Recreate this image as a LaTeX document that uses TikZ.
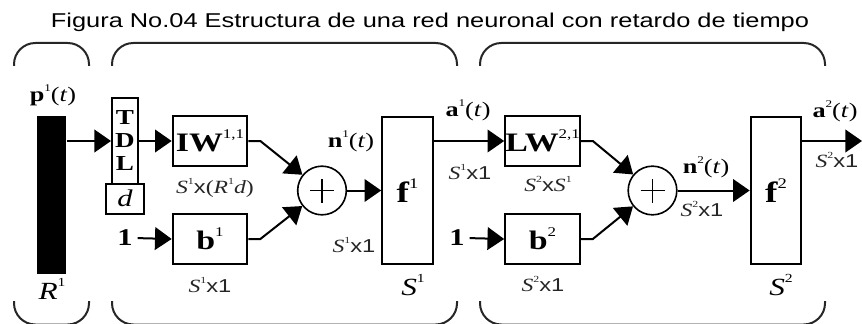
\documentclass[tikz,border=0pt]{standalone}
\usepackage{fontspec}
\setmainfont{Liberation Serif}
\newfontfamily\arialf{Liberation Sans}
\usepackage{graphicx}
\usetikzlibrary{arrows.meta}
\newcommand{\xwide}[1]{\scalebox{1.27}[1]{#1}}
\newcommand{\hi}[1]{\raisebox{0.5em}{\scalebox{0.5}{\mdseries#1}}}

\begin{document}
\begin{tikzpicture}[x=0.75pt,y=-0.75pt,line width=1.5pt,
    arr/.style={-{Triangle[length=12.5pt,width=17pt]}},
    blk/.style={draw,inner sep=0pt,minimum width=56pt,minimum height=37pt,
      font=\fontsize{20}{22}\selectfont\bfseries},
    tall/.style={draw,inner sep=0pt,minimum width=38pt,minimum height=110pt,
      font=\fontsize{22}{24}\selectfont\bfseries},
    sum/.style={draw,circle,line width=1.2pt,inner sep=0pt,minimum size=36.5pt},
    sig/.style={inner sep=0pt,font=\fontsize{15.5}{17}\selectfont},
    dim/.style={inner sep=0pt,text=black!85,font=\fontsize{14}{16}\selectfont},
    big/.style={inner sep=0pt,font=\fontsize{18.5}{20}\selectfont},
    one/.style={inner sep=0pt,font=\fontsize{18}{20}\selectfont\bfseries}]
  \useasboundingbox (0,0) rectangle (862,324);
  % Title
  \node[inner sep=0pt,anchor=base,font=\arialf\fontsize{15}{17}\selectfont] (title)
    at (430,28) {\xwide{Figura No.04 Estructura de una red neuronal con retardo de tiempo}};
  % Brackets
  \foreach \l/\r in {14/89,112/457,480/825}{
    \draw[black!85,rounded corners=16pt] (\l,66) -- (\l,43) -- (\r,43) -- (\r,66);
    \draw[black!85,rounded corners=16pt] (\l,301) -- (\l,324.5) -- (\r,324.5) -- (\r,301);
  }
  % Input
  \node[fill=black,inner sep=0pt,minimum width=21.75pt,minimum height=118.5pt] (bar) at (51.5,195) {};
  \node[sig] (pin) at (53,95) {\xwide{\textbf{p}\hi{1}(\textit{t})}};
  \node[big] (rin) at (52,289) {\xwide{\textit{R}\hi{1}}};
  % Layer 1
  \node[draw,inner sep=0pt,minimum width=19.5pt,minimum height=63.75pt,align=center,
    font=\fontsize{16}{17.25}\selectfont\bfseries] (tdl) at (125,141) {\xwide{T}\\\xwide{D}\\\xwide{L}};
  \node[draw,inner sep=0pt,minimum width=28.5pt,minimum height=22.5pt,
    font=\fontsize{18}{20}\selectfont\itshape] (dly) at (125,198.5) {\xwide{d}};
  \node[blk] (iw) at (210,141) {\xwide{IW\hi{1,1}}};
  \node[dim] at (215,188) {\xwide{\textit{S}\hi{1}{\arialf x}(\textit{R}\hi{1}\textit{d})}};
  \node[one] (one1) at (125,238) {\xwide{1}};
  \node[blk] (b1) at (210,239) {\xwide{b\hi{1}}};
  \node[dim] at (210,285) {\xwide{\textit{S}\hi{1}{\arialf x1}}};
  \node[sum] (sum1) at (322,190.5) {};
  \draw[line width=1.2pt] ([xshift=-9pt]sum1.center) -- ([xshift=9pt]sum1.center)
    ([yshift=-9pt]sum1.center) -- ([yshift=9pt]sum1.center);
  \node[sig] at (351,141) {\xwide{\textbf{n}\hi{1}(\textit{t})}};
  \node[dim] at (354,245) {\xwide{\textit{S}\hi{1}{\arialf x1}}};
  \node[tall] (f1) at (407.5,190.5) {\xwide{f\hi{1}}};
  \node[big] at (413,285) {\xwide{\textit{S}\hi{1}}};
  % Layer 2
  \node[sig] at (468,110) {\xwide{\textbf{a}\hi{1}(\textit{t})}};
  \node[dim] at (470,172) {\xwide{\textit{S}\hi{1}{\arialf x1}}};
  \node[blk] (lw) at (542.5,141) {\xwide{LW\hi{2,1}}};
  \node[dim] at (548,184) {\xwide{\textit{S}\hi{2}{\arialf x}\textit{S}\hi{1}}};
  \node[one] (one2) at (457,238) {\xwide{1}};
  \node[blk] (b2) at (542.5,239) {\xwide{b\hi{2}}};
  \node[dim] at (543,284) {\xwide{\textit{S}\hi{2}{\arialf x1}}};
  \node[sum] (sum2) at (652.5,190.5) {};
  \draw[line width=1.2pt] ([xshift=-9pt]sum2.center) -- ([xshift=9pt]sum2.center)
    ([yshift=-9pt]sum2.center) -- ([yshift=9pt]sum2.center);
  \node[sig] at (706,167) {\xwide{\textbf{n}\hi{2}(\textit{t})}};
  \node[dim] at (702,209) {\xwide{\textit{S}\hi{2}{\arialf x1}}};
  \node[tall] (f2) at (776,190.5) {\xwide{f\hi{2}}};
  \node[big] at (781,285) {\xwide{\textit{S}\hi{2}}};
  \node[sig] at (835,111) {\xwide{\textbf{a}\hi{2}(\textit{t})}};
  \node[dim] at (837,160) {\xwide{\textit{S}\hi{2}{\arialf x1}}};
  \coordinate (out) at (862,141);
  % Connections
  \draw[arr] (bar.east |- tdl.west) -- (tdl.west);
  \draw[arr] (tdl.east) -- (iw.west);
  \draw[arr,shorten <=3pt] (one1.east) -- (b1.west);
  \draw[arr] (iw.east) -- ++(12,0) -- (sum1);
  \draw[arr] (b1.east) -- ++(12,0) -- (sum1);
  \draw[arr] (sum1) -- (f1.west);
  \draw[arr] (f1.east |- lw.west) -- (lw.west);
  \draw[arr,shorten <=3pt] (one2.east) -- (b2.west);
  \draw[arr] (lw.east) -- ++(12,0) -- (sum2);
  \draw[arr] (b2.east) -- ++(12,0) -- (sum2);
  \draw[arr] (sum2) -- (f2.west);
  \draw[arr] (f2.east |- out) -- (out);
\end{tikzpicture}
\end{document}
